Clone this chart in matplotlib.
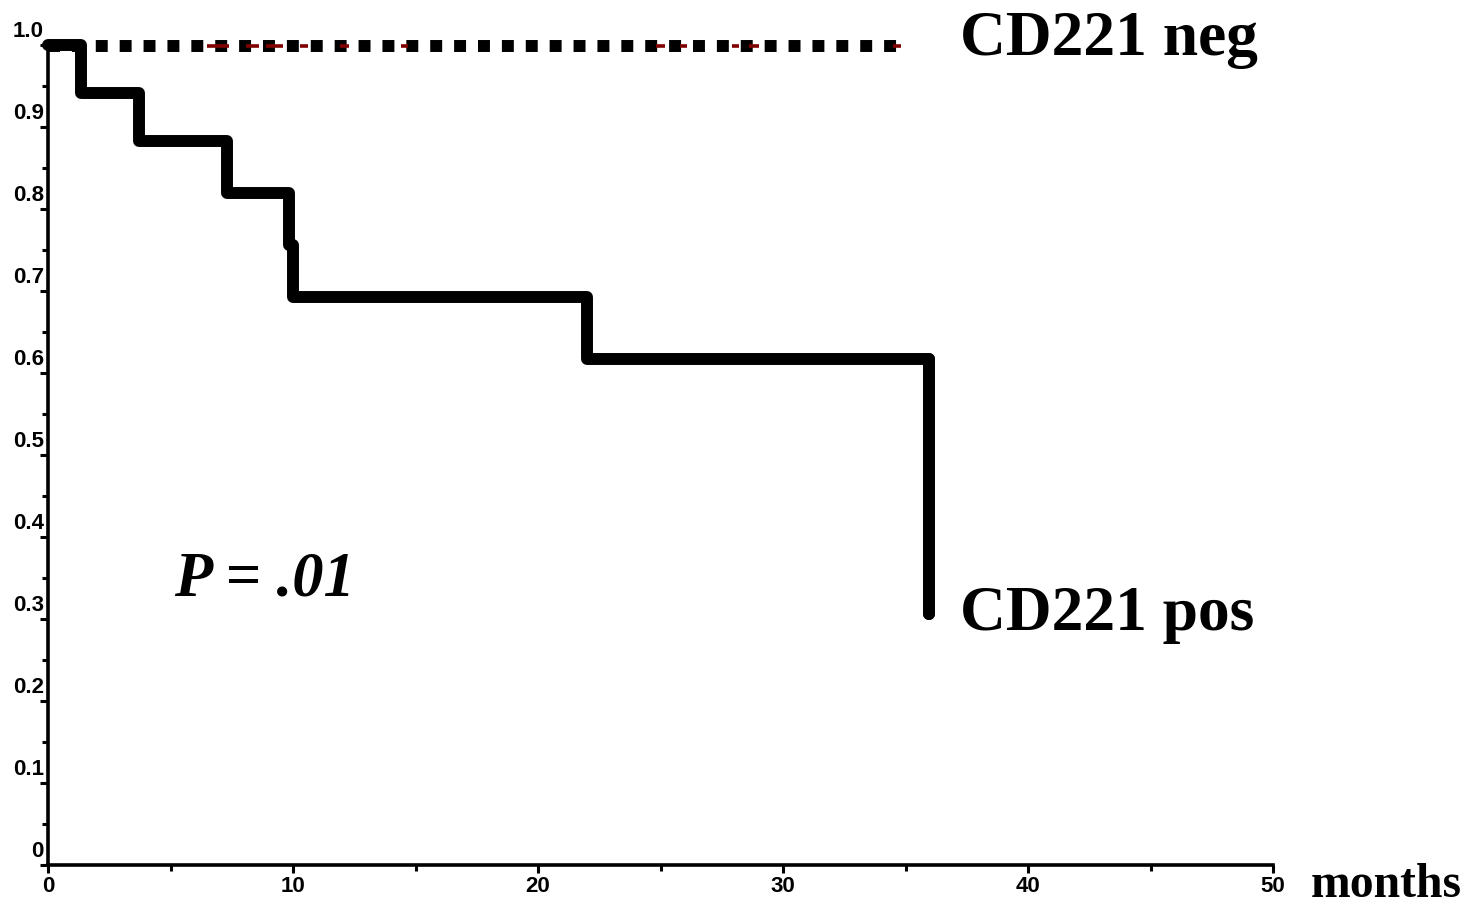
import matplotlib
matplotlib.use("Agg")
import matplotlib.pyplot as plt
from matplotlib.ticker import MultipleLocator

# Data
pos_times = [0, 1.35, 3.73, 7.31, 9.85, 10.0, 22.02, 35.95]
pos_surv = [1.0, 0.9415, 0.883, 0.8195, 0.756, 0.693, 0.617, 0.306]
neg_times = [0, 34.7]
neg_surv = [0.999, 0.999]
# dark red censor dash segments on the negative curve (months)
neg_red_segments = [(6.5, 7.4), (8.1, 8.6), (8.9, 9.6), (10.3, 10.6), (11.9, 12.3),
                    (14.4, 14.7), (24.8, 25.2), (25.8, 26.1), (27.9, 28.2),
                    (28.6, 29.0), (34.5, 34.8)]
y_ticks = [0, 0.1, 0.2, 0.3, 0.4, 0.5, 0.6, 0.7, 0.8, 0.9, 1.0]
y_tick_labels = ["0", "0.1", "0.2", "0.3", "0.4", "0.5", "0.6", "0.7", "0.8", "0.9", "1.0"]
x_ticks = [0, 10, 20, 30, 40, 50]
x_tick_labels = ["0", "10", "20", "30", "40", "50"]

fig = plt.figure(figsize=(14.83, 9.07), dpi=100)
ax = fig.add_axes([48/1483, 1-865/907, (1273-48)/1483, (865-45)/907])
ax.set_xlim(0, 50)
ax.set_ylim(0, 1.0)

# negative group: dotted squares
ax.plot(neg_times, neg_surv, color="black", lw=8.6, linestyle=(0, (1, 1)),
        dash_capstyle="butt", solid_capstyle="butt", clip_on=False, zorder=3)
for a, b in neg_red_segments:
    ax.plot([a, b], [neg_surv[0], neg_surv[0]], color="#800000", lw=2.6,
            solid_capstyle="butt", clip_on=False, zorder=4)

# positive group: step
ax.step(pos_times, pos_surv, where="post", color="black", lw=8.6,
        solid_joinstyle="round", solid_capstyle="round", clip_on=False, zorder=5)
ax.plot([pos_times[-1], pos_times[-1]], [pos_surv[-2], pos_surv[-1]], color="black",
        lw=8.6, solid_capstyle="round", clip_on=False, zorder=5)

for s in ["top", "right"]:
    ax.spines[s].set_visible(False)
for s in ["left", "bottom"]:
    ax.spines[s].set_linewidth(2.6)

ax.set_xticks(x_ticks)
ax.set_xticklabels(x_tick_labels)
ax.xaxis.set_minor_locator(MultipleLocator(5))
ax.set_yticks(y_ticks)
ax.set_yticklabels([])
ax.yaxis.set_minor_locator(MultipleLocator(0.05))
ax.tick_params(axis="both", which="major", direction="out", length=6, width=2.2)
ax.tick_params(axis="both", which="minor", direction="out", length=4, width=2.2)
ax.tick_params(axis="x", which="major", pad=2)
for lab in ax.get_xticklabels():
    lab.set_fontfamily("Liberation Sans")
    lab.set_fontweight("bold")
    lab.set_fontsize(16)

for v, t in zip(y_ticks, y_tick_labels):
    ax.annotate(t, xy=(0, v), xytext=(-3, 2), textcoords="offset points",
                ha="right", va="bottom", fontsize=16, fontweight="bold",
                family="Liberation Sans", annotation_clip=False)

serif = "Liberation Serif"
fig.text(960/1483, 1-40/907, "CD221 neg", fontsize=45.7, fontweight="bold",
         family=serif, ha="left", va="center")
fig.text(960/1483, 1-615/907, "CD221 pos", fontsize=45.7, fontweight="bold",
         family=serif, ha="left", va="center")
fig.text(1311/1483, 1-885/907, "months", fontsize=34.3, fontweight="bold",
         family=serif, ha="left", va="center")
fig.text(174/1483, 1-581/907, "P = .01", fontsize=45, fontweight="bold",
         fontstyle="italic", family=serif, ha="left", va="center")

fig.savefig("out.png", dpi=100)
